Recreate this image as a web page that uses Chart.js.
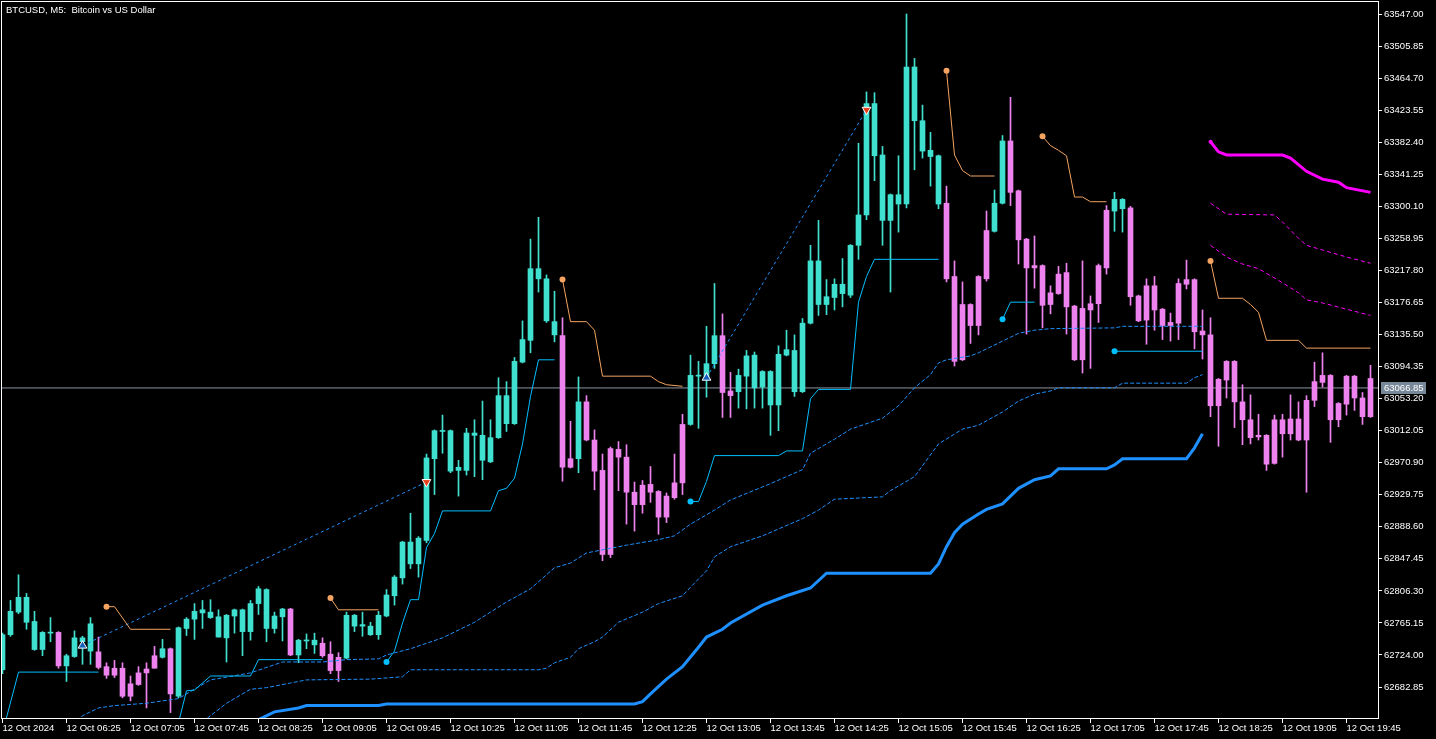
<!DOCTYPE html>
<html>
<head>
<meta charset="utf-8">
<script src="https://cdn.jsdelivr.net/npm/chart.js@4.4.1/dist/chart.umd.min.js"></script>
<style>
  html, body { margin: 0; padding: 0; background: #000; }
  #wrap { position: relative; width: 1436px; height: 739px; }
  #title { position: absolute; left: 6px; top: 4px; color: #fff; font: 9.5px "Liberation Sans", Arial, sans-serif; line-height: 11px; white-space: pre; }
</style>
</head>
<body>
<div id="wrap">
  <canvas id="chart" width="1436" height="739"></canvas>
  <div id="title">BTCUSD, M5:  Bitcoin vs US Dollar</div>
</div>
<script>
// M5 bars, index 0 = first bar on screen
const opens  = [62705,62750,62779,62766,62731,62731,62752,62753,62710,62722,62741,62729,62728,62709,62707,62707,62687,62701,62706,62723,62721,62732,62671,62758,62770,62778,62772,62747,62746,62774,62754,62754,62790,62758,62758,62773,62783,62724,62742,62737,62739,62725,62721,62720,62761,62761,62750,62750,62774,62800,62823,62841,62841,62871,62976,63011,62960,62961,62961,63006,62974,62972,63003,63021,63021,63100,63128,63207,63153,63135,63134,62976,62976,63049,63000,62961,62989,62988,62978,62933,62942,62943,62934,62928,62945,63020,63020,63082,63081,63098,63134,63063,63062,63082,63067,63068,63045,63045,63109,63062,63062,63150,63174,63174,63183,63188,63186,63250,63289,63365,63282,63282,63303,63303,63410,63371,63364,63303,63304,63210,63174,63174,63210,63269,63268,63304,63384,63320,63258,63224,63224,63189,63213,63215,63172,63169,63175,63224,63295,63294,63297,63298,63185,63198,63198,63168,63151,63201,63206,63206,63140,63135,63078,63101,63101,63049,63026,63006,63006,63026,63026,63027,63027,63051,63075,63083,63083,63047,63082,63082,63054,63079];
const highs  = [62752,62794,62827,62803,62780,62754,62772,62754,62725,62755,62748,62772,62747,62714,62717,62714,62697,62709,62714,62735,62744,62733,62760,62772,62790,62794,62795,62782,62776,62783,62783,62794,62812,62809,62779,62784,62784,62744,62751,62752,62746,62741,62727,62779,62776,62779,62766,62780,62808,62826,62870,62906,62876,62982,63013,63032,63013,62974,63015,63026,63050,63026,63080,63075,63106,63153,63258,63286,63212,63191,63157,63024,63081,63057,63013,62982,62991,62998,62994,62946,62948,62966,62935,62932,62982,63033,63109,63101,63146,63201,63162,63087,63091,63115,63113,63089,63089,63121,63141,63135,63156,63250,63282,63206,63207,63233,63251,63381,63447,63446,63377,63316,63365,63547,63490,63430,63395,63366,63326,63230,63203,63175,63211,63294,63321,63391,63440,63321,63259,63262,63225,63198,63223,63227,63173,63230,63185,63226,63301,63318,63310,63300,63186,63207,63210,63169,63163,63207,63231,63207,63167,63157,63079,63102,63102,63071,63058,63033,63007,63032,63033,63058,63049,63057,63100,63112,63084,63048,63083,63083,63061,63096];
const lows   = [62700,62748,62777,62757,62730,62723,62741,62707,62690,62721,62712,62712,62706,62694,62695,62669,62665,62685,62656,62707,62720,62650,62669,62749,62744,62758,62771,62747,62715,62752,62723,62743,62776,62741,62752,62742,62723,62714,62732,62726,62721,62700,62690,62719,62754,62748,62749,62744,62773,62788,62815,62835,62824,62868,62930,62983,62958,62928,62955,62953,62949,62971,63002,63011,63020,63099,63112,63190,63151,63126,62947,62964,62958,62999,62936,62845,62849,62935,62892,62883,62906,62920,62879,62894,62924,62930,63019,63015,63055,63092,63029,63029,63041,63040,63041,63041,63006,63012,63108,63056,63061,63149,63160,63161,63167,63171,63183,63232,63283,63333,63250,63190,63267,63298,63347,63362,63326,63297,63203,63095,63102,63124,63135,63204,63267,63303,63301,63226,63136,63195,63144,63162,63187,63136,63102,63086,63092,63151,63213,63268,63267,63173,63152,63123,63141,63129,63127,63129,63194,63117,63104,63030,62992,63054,63016,62994,62995,63000,62961,62969,62978,63000,62999,62933,63043,63068,62997,63017,63032,63038,63020,63029];
const closes = [62750,62780,62798,62798,62767,62753,62753,62710,62723,62746,62746,62764,62708,62698,62698,62671,62671,62686,62701,62707,62732,62674,62759,62770,62780,62782,62779,62773,62775,62782,62782,62790,62809,62808,62774,62783,62724,62743,62743,62743,62723,62704,62704,62775,62775,62763,62761,62775,62801,62824,62869,62869,62874,62977,63012,63012,63012,62965,63009,63009,63006,63003,63057,63057,63101,63129,63220,63220,63207,63152,62965,62965,63049,63000,62960,62853,62853,62978,62933,62917,62917,62933,62901,62901,62926,62945,63083,63083,63098,63134,63061,63057,63083,63108,63109,63088,63088,63110,63116,63115,63150,63230,63230,63184,63200,63200,63250,63289,63432,63432,63366,63315,63315,63479,63479,63410,63372,63365,63207,63101,63103,63147,63147,63207,63304,63384,63318,63257,63221,63221,63173,63174,63188,63171,63103,63103,63167,63175,63221,63309,63309,63184,63153,63154,63167,63147,63147,63150,63200,63139,63135,63044,63044,63077,63049,63026,63003,63004,62969,62970,63008,63008,63000,63000,63051,63074,63026,63026,63046,63054,63030,63030];

// bottom axis labels, one every 8 bars
const timeTickBars = [0,8,16,24,32,40,48,56,64,72,80,88,96,104,112,120,128,136,144,152,160,168];
const timeLabels = ['12 Oct 2024','12 Oct 06:25','12 Oct 07:05','12 Oct 07:45','12 Oct 08:25','12 Oct 09:05','12 Oct 09:45','12 Oct 10:25','12 Oct 11:05','12 Oct 11:45','12 Oct 12:25','12 Oct 13:05','12 Oct 13:45','12 Oct 14:25','12 Oct 15:05','12 Oct 15:45','12 Oct 16:25','12 Oct 17:05','12 Oct 17:45','12 Oct 18:25','12 Oct 19:05','12 Oct 19:45'];
const priceTicks = [63547.00,63505.85,63464.70,63423.55,63382.40,63341.25,63300.10,63258.95,63217.80,63176.65,63135.50,63094.35,63053.20,63012.05,62970.90,62929.75,62888.60,62847.45,62806.30,62765.15,62724.00,62682.85];
const lastPrice = 63066.85;

// indicator lines as [bar, price]
const orangeA = [[13,62786],[14,62786],[16,62757],[21,62757]];
const orangeB = [[41,62797],[42,62782],[47,62782]];
const orangeC = [[70,63206],[71,63152],[73,63152],[74,63141],[75,63082],[81,63082],[82,63075],[83,63071],[85,63069]];
const orangeD = [[118,63474],[119,63366],[120,63346],[121,63339],[124,63339]];
const orangeE = [[130,63390],[131,63378],[132,63372],[133,63365],[134,63312],[135,63312],[136,63306],[138,63306]];
const orangeF = [[151,63230],[152,63182],[155,63182],[156,63174],[157,63164],[158,63128],[162,63128],[163,63118],[171,63118]];

const skyA = [[0,62624],[2,62702],[12,62702]];
const skyB = [[22,62637],[23,62678],[24,62679],[26,62697],[31,62697],[32,62718],[40,62718]];
const skyC = [[48,62715],[49,62729],[50,62765],[51,62795],[52,62795],[53,62862],[54,62880],[55,62909],[61,62909],[62,62935],[63,62938],[64,62951],[65,62995],[66,63056],[67,63103],[69,63103]];
const skyD = [[86,62921],[87,62921],[88,62947],[89,62980],[97,62980],[98,62986],[100,62986],[101,63053],[102,63065],[106,63065],[107,63177],[108,63210],[109,63232],[117,63232]];
const skyE = [[125,63155],[126,63177],[129,63177]];
const skyF = [[139,63114],[150,63114]];

const zigA = [[10,62736],[53,62946]];
const zigB = [[88,63080],[108,63424]];

const bandUpper = [[9,62632],[10,62646],[12,62656],[14,62659],[18,62662],[22,62668],[26,62692],[31,62701],[35,62715],[40,62715],[43,62718],[47,62719],[48,62724],[51,62732],[55,62746],[59,62766],[63,62792],[66,62809],[69,62836],[71,62842],[73,62855],[78,62865],[82,62872],[84,62877],[86,62892],[88,62904],[89,62910],[91,62923],[96,62944],[100,62962],[101,62983],[104,63001],[106,63014],[110,63028],[112,63044],[114,63067],[116,63084],[117,63099],[118,63103],[121,63108],[122,63112],[126,63132],[127,63137],[129,63141],[131,63143],[139,63144],[140,63146],[150,63146]];
const bandLower = [[25,62638],[28,62662],[31,62680],[33,62682],[36,62688],[38,62692],[46,62693],[50,62696],[51,62705],[67,62705],[68,62707],[69,62714],[71,62721],[72,62732],[74,62741],[75,62747],[77,62766],[80,62779],[82,62790],[85,62800],[86,62811],[88,62832],[89,62850],[91,62863],[95,62877],[100,62899],[102,62910],[104,62924],[110,62927],[111,62935],[114,62953],[117,62995],[120,63014],[122,63019],[125,63036],[127,63050],[129,63059],[131,63063],[132,63067],[139,63067],[140,63073],[148,63073],[149,63080],[150,63084]];
const bandBase = [[32,62641],[34,62651],[37,62656],[38,62659],[47,62659],[48,62661],[79,62661],[80,62664],[81,62674],[83,62693],[85,62709],[87,62734],[88,62747],[90,62757],[91,62765],[95,62788],[98,62800],[101,62810],[103,62829],[116,62829],[117,62841],[118,62863],[119,62881],[120,62892],[122,62905],[123,62911],[125,62918],[127,62938],[129,62949],[131,62954],[132,62963],[138,62963],[139,62968],[140,62976],[148,62976],[149,62990],[150,63008]];

const magMain = [[151,63383],[152,63370],[153,63366],[160,63366],[161,63362],[163,63345],[165,63335],[167,63331],[168,63324],[171,63318]];
const magUp = [[151,63304],[153,63290],[159,63289],[160,63280],[162,63259],[163,63250],[165,63244],[168,63235],[171,63227]];
const magLow = [[151,63250],[153,63235],[155,63226],[157,63220],[159,63208],[160,63202],[162,63189],[163,63180],[165,63176],[168,63168],[171,63160]];

const upArrows = [[10,62736],[88,63080]];
const downArrows = [[53,62946],[108,63424]];

const BULL = '#40E0D0';
const BEAR = '#EE82EE';
const FONT = '"Liberation Sans", Arial, sans-serif';

const X_MIN = -0.0625, X_MAX = 171.9375;
const Y_MIN = 62643.07, Y_MAX = 63562.43;

const barIdx = opens.map((_, i) => i);
const candleColor = c => closes[c.dataIndex] >= opens[c.dataIndex] ? BULL : BEAR;

function pts(arr) { return arr.map(p => ({ x: p[0], y: p[1] })); }

function line(arr, color, width, dash, dot) {
  return {
    type: 'line',
    data: pts(arr),
    borderColor: color,
    borderWidth: width,
    borderDash: dash || [],
    pointRadius: c => (dot && c.dataIndex === 0) ? dot : 0,
    pointBackgroundColor: color,
    pointBorderWidth: 0,
    pointHoverRadius: 0,
    tension: 0,
    fill: false,
    order: 1
  };
}

function arrows(arr, fill, rot) {
  return {
    type: 'line',
    data: pts(arr),
    showLine: false,
    pointStyle: 'triangle',
    pointRotation: rot,
    pointRadius: 5,
    pointBackgroundColor: fill,
    pointBorderColor: '#ffffff',
    pointBorderWidth: 1,
    order: 0
  };
}

// no label overflow padding, the plot runs to the frame
function noPad(s) {
  s.paddingLeft = 0; s.paddingRight = 0; s.paddingTop = 0; s.paddingBottom = 0;
}

const frame = {
  id: 'frame',
  afterDraw(chart) {
    const { ctx, chartArea: a, scales } = chart;
    ctx.save();
    ctx.strokeStyle = '#ffffff';
    ctx.lineWidth = 1;
    ctx.strokeRect(a.left - 0.5, a.top - 0.5, a.right - a.left + 1, a.bottom - a.top + 1);
    // last price box on the axis
    const y = Math.round(scales.y.getPixelForValue(lastPrice));
    ctx.fillStyle = '#778899';
    ctx.fillRect(a.right + 3, y - 6, 45, 12);
    ctx.fillStyle = '#ffffff';
    ctx.font = '9.5px ' + FONT;
    ctx.textBaseline = 'middle';
    ctx.fillText(lastPrice.toFixed(2), a.right + 6, y + 0.5);
    ctx.restore();
  }
};

new Chart(document.getElementById('chart'), {
  type: 'bar',
  data: {
    datasets: [
      arrows(upArrows, '#1560BD', 0),
      arrows(downArrows, '#E8401C', 180),
      line(orangeA, '#F4A460', 1, null, 3),
      line(orangeB, '#F4A460', 1, null, 3),
      line(orangeC, '#F4A460', 1, null, 3),
      line(orangeD, '#F4A460', 1, null, 3),
      line(orangeE, '#F4A460', 1, null, 3),
      line(orangeF, '#F4A460', 1, null, 3),
      line(skyA, '#00BFFF', 1),
      line(skyB, '#00BFFF', 1),
      line(skyC, '#00BFFF', 1, null, 3),
      line(skyD, '#00BFFF', 1, null, 3),
      line(skyE, '#00BFFF', 1, null, 3),
      line(skyF, '#00BFFF', 1, null, 3),
      line(zigA, '#1E90FF', 1, [3, 3]),
      line(zigB, '#1E90FF', 1, [3, 3]),
      line(bandUpper, '#1E90FF', 1, [4, 2]),
      line(bandLower, '#1E90FF', 1, [4, 2]),
      line(bandBase, '#1E90FF', 3),
      line(magMain, '#FF00FF', 3, null, 2),
      line(magUp, '#FF00FF', 1, [4, 3]),
      line(magLow, '#FF00FF', 1, [4, 3]),
      {
        type: 'bar',
        data: barIdx.map(i => ({ x: i, y: [opens[i], closes[i]] })),
        backgroundColor: candleColor,
        borderWidth: 0,
        barThickness: 5,
        minBarLength: 1,
        grouped: false,
        order: 2
      },
      {
        type: 'bar',
        data: barIdx.map(i => ({ x: i, y: [lows[i], highs[i]] })),
        backgroundColor: candleColor,
        borderWidth: 0,
        barThickness: 1,
        grouped: false,
        order: 3
      },
      {
        type: 'line',
        data: [{ x: X_MIN, y: lastPrice }, { x: X_MAX, y: lastPrice }],
        borderColor: '#8C96A0',
        borderWidth: 1,
        pointRadius: 0,
        order: 4
      }
    ]
  },
  options: {
    responsive: false,
    devicePixelRatio: 1,
    animation: false,
    events: [],
    layout: { autoPadding: false, padding: { left: 2, top: 2, right: 0, bottom: 0 } },
    plugins: { legend: { display: false }, tooltip: { enabled: false } },
    scales: {
      x: {
        type: 'linear',
        min: X_MIN,
        max: X_MAX,
        offset: false,
        afterBuildTicks: s => { s.ticks = timeTickBars.map(v => ({ value: v })); },
        afterFit: s => { s.height = 21; noPad(s); },
        ticks: {
          autoSkip: false,
          maxRotation: 0,
          align: 'start',
          padding: 0,
          color: '#ffffff',
          font: { family: FONT, size: 9.5 },
          callback: (v, i) => timeLabels[i]
        },
        grid: { drawOnChartArea: false, offset: false, tickLength: 5, color: '#ffffff' },
        border: { display: false }
      },
      y: {
        type: 'linear',
        position: 'right',
        min: Y_MIN,
        max: Y_MAX,
        afterBuildTicks: s => { s.ticks = priceTicks.map(v => ({ value: v })); },
        afterFit: s => { s.width = 58; noPad(s); },
        ticks: {
          autoSkip: false,
          padding: 2,
          color: '#ffffff',
          font: { family: FONT, size: 9.5 },
          callback: v => v.toFixed(2)
        },
        grid: { drawOnChartArea: false, tickLength: 4, color: '#ffffff' },
        border: { display: false }
      }
    }
  },
  plugins: [frame]
});
</script>
</body>
</html>
